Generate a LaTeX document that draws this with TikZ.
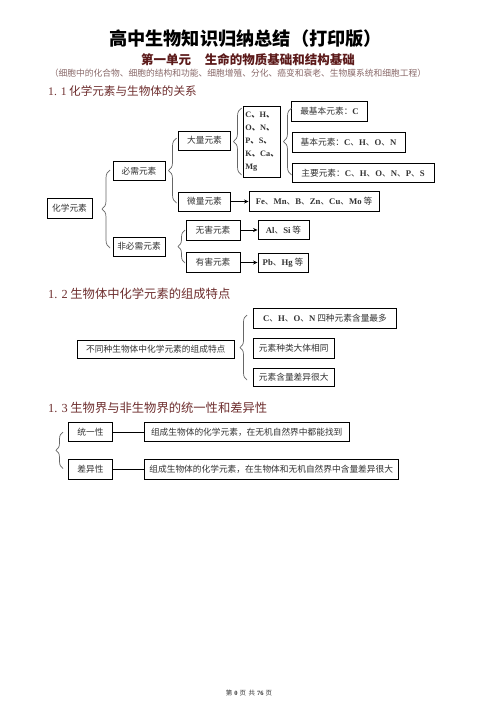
\documentclass[tikz,border=0pt]{standalone}
\usepackage{fontspec}
\setmainfont{Liberation Serif}
\newfontfamily\cjk{Noto Sans CJK SC}
\newfontfamily\latf{Liberation Serif}
\newcommand\Lat[1]{{\latf\bfseries #1}}
\newcommand\boxfont{\cjk\fontsize{8.7}{10}\selectfont}
\usetikzlibrary{decorations.pathreplacing,arrows.meta}
\definecolor{txt}{HTML}{333333}
\definecolor{brcol}{HTML}{666666}
\definecolor{subred}{HTML}{5C1A1A}
\definecolor{headred}{HTML}{6E2E2E}
\definecolor{parcol}{HTML}{8A6A6A}
\begin{document}
\begin{tikzpicture}[x=1pt,y=-1pt,
  box/.style={draw=black,line width=0.9pt,inner sep=0pt,font=\boxfont,text=txt},
  brc/.style={decorate,decoration={brace,amplitude=#1},draw=brcol,line width=0.7pt},
  brc/.default=7pt,
  arr/.style={-{Stealth[length=4.5pt,width=4pt]},line width=0.9pt},
  conn/.style={line width=0.9pt},
  head/.style={anchor=west,inner sep=0pt,text=headred,font=\cjk\fontsize{12.3}{14}\selectfont}]
\fill[white] (0,0) rectangle (496,702);
\useasboundingbox (0,0) rectangle (496,702);

% titles
\node[inner sep=0pt,font=\cjk\bfseries\fontsize{18.2}{20}\selectfont] (title) at (245.5,38.3) {高中生物知识归纳总结（打印版）};
\node[inner sep=0pt,text=subred,font=\cjk\bfseries\fontsize{12.5}{14}\selectfont] (sub) at (248,59.5) {第一单元\hspace{1.1em}生命的物质基础和结构基础};
\node[inner sep=0pt,text=parcol,font=\cjk\fontsize{8.75}{10}\selectfont] (par) at (238,73.6) {（细胞中的化合物、细胞的结构和功能、细胞增殖、分化、癌变和衰老、生物膜系统和细胞工程）};
\node[head,font=\cjk\fontsize{11.6}{14}\selectfont] (h1) at (48,90.8) {{\latf 1. 1} 化学元素与生物体的关系};

% diagram 1
\node[box,minimum width=45pt,minimum height=20pt] (hx) at (69.5,208) {化学元素};
\node[box,minimum width=52pt,minimum height=18.5pt] (bx) at (139,171) {必需元素};
\node[box,minimum width=52pt,minimum height=19pt] (fbx) at (139,246.5) {非必需元素};
\node[box,minimum width=52.5pt,minimum height=19pt] (dl) at (204.5,140.5) {大量元素};
\node[box,minimum width=52.5pt,minimum height=19pt] (wl) at (204.5,201.5) {微量元素};
\node[box,minimum width=37.5pt,minimum height=70.5pt,align=left,font=\latf\bfseries\fontsize{8.3}{13}\selectfont] (chb) at (262,142)
  {C{\cjk 、}H{\cjk 、}\\O{\cjk 、}N{\cjk 、}\\P{\cjk 、}S{\cjk 、}\\K{\cjk 、}Ca{\cjk 、}\\Mg};
\node[box,minimum width=75.5pt,minimum height=20.5pt] (zjb) at (329.5,111.5) {最基本元素：\Lat{C}};
\node[box,minimum width=113pt,minimum height=20pt] (jb) at (348.5,142.3) {基本元素：\Lat{C}、\Lat{H}、\Lat{O}、\Lat{N}};
\node[box,minimum width=142pt,minimum height=19pt] (zy) at (363,172.8) {主要元素：\Lat{C}、\Lat{H}、\Lat{O}、\Lat{N}、\Lat{P}、\Lat{S}};
\node[box,minimum width=130pt,minimum height=20pt] (fe) at (314,201.5) {\Lat{Fe}、\Lat{Mn}、\Lat{B}、\Lat{Zn}、\Lat{Cu}、\Lat{Mo} 等};
\node[box,minimum width=54pt,minimum height=20pt] (wh) at (213,230) {无害元素};
\node[box,minimum width=54pt,minimum height=19.5pt] (yh) at (213,262.5) {有害元素};
\node[box,minimum width=51pt,minimum height=19pt] (al) at (283.5,230) {\Lat{Al}、\Lat{Si} 等};
\node[box,minimum width=50pt,minimum height=19pt] (pb) at (283,262.5) {\Lat{Pb}、\Lat{Hg} 等};

\draw[brc=8pt] (110,248) -- (110,170);
\draw[brc=8pt] (176.5,203) -- (176.5,138);
\draw[brc=8pt] (241.5,175) -- (241.5,108);
\draw[brc=8pt] (291.5,175) -- (291.5,108);
\draw[brc=7pt] (185,263) -- (185,230);

\draw[arr] (wl) -- (fe);
\draw[arr] (wh) -- (al);
\draw[arr] (yh) -- (pb);

% section 1.2
\node[head] (h2) at (48,294) {{\latf 1. 2} 生物体中化学元素的组成特点};
\node[box,minimum width=157pt,minimum height=18.3pt] (bt) at (155.8,349.2) {不同种生物体中化学元素的组成特点};
\node[box,minimum width=143.4pt,minimum height=20pt] (d2a) at (325,318.3) {\Lat{C}、\Lat{H}、\Lat{O}、\Lat{N} 四种元素含量最多};
\node[box,minimum width=80.7pt,minimum height=20pt] (d2b) at (293.7,348.3) {元素种类大体相同};
\node[box,minimum width=80.7pt,minimum height=18.4pt] (d2c) at (293.7,377.5) {元素含量差异很大};
\draw[brc=7pt] (247,380) -- (247,315);

% section 1.3
\node[head] (h3) at (48,407.5) {{\latf 1. 3} 生物界与非生物界的统一性和差异性};
\node[box,minimum width=44.4pt,minimum height=19pt] (ty) at (90.5,432.2) {统一性};
\node[box,minimum width=44.4pt,minimum height=19.7pt] (cy) at (90.5,469.2) {差异性};
\node[box,minimum width=205.3pt,minimum height=19pt] (tyd) at (246.7,432.2) {组成生物体的化学元素，在无机自然界中都能找到};
\node[box,minimum width=254.3pt,minimum height=19.7pt] (cyd) at (271.2,469.2) {组成生物体的化学元素，在生物体和无机自然界中含量差异很大};
\draw[brc=7pt] (63,468.5) -- (63,432);
\draw[conn] (ty) -- (tyd);
\draw[conn] (cy) -- (cyd);

% footer
\node[inner sep=0pt,text=txt,font=\cjk\fontsize{6.5}{7}\selectfont] (foot) at (249,693.5) {第\hspace{2pt}\Lat{0}\hspace{2pt}页\hspace{2.5pt}共\hspace{2pt}\Lat{76}\hspace{2pt}页};
\end{tikzpicture}
\end{document}
